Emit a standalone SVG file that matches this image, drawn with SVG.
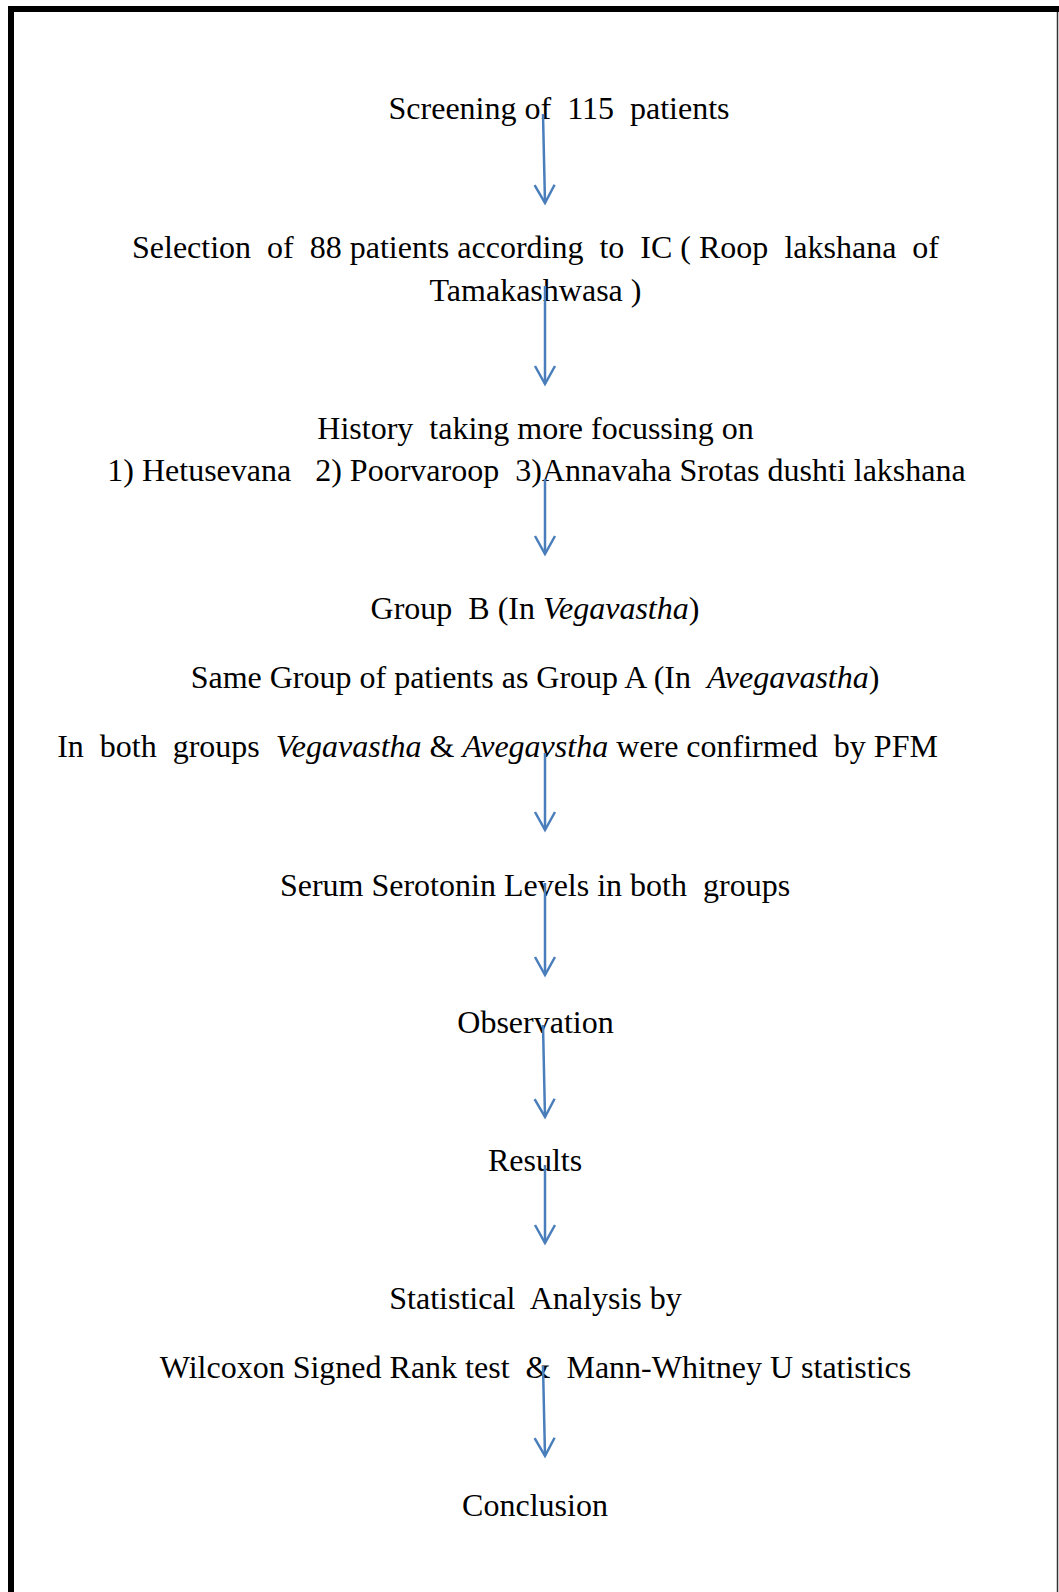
<svg xmlns="http://www.w3.org/2000/svg" width="1059" height="1592" viewBox="0 0 1059 1592">
  <style>
    .t { font-family: "Liberation Serif", "Times New Roman", serif; font-size: 32px; fill: #000; white-space: pre; }
    .c { text-anchor: middle; }
    .i { font-style: italic; }
    .flow { stroke: #4A7EBB; stroke-width: 2.5; fill: none; }
  </style>
  <defs>
    <marker id="head" markerUnits="userSpaceOnUse" markerWidth="24" markerHeight="24" refX="18" refY="10" orient="auto" overflow="visible">
      <path d="M0,0 L18,10 L0,20" fill="none" stroke="#4A7EBB" stroke-width="2.5"/>
    </marker>
  </defs>

  <rect width="1059" height="1592" fill="#fff"/>

  <!-- page frame -->
  <g id="frame">
    <rect x="8" y="6" width="1051" height="6" fill="#000"/>
    <rect x="8" y="6" width="6" height="1586" fill="#000"/>
    <line x1="1057.5" y1="12" x2="1057.5" y2="1592" stroke="#333" stroke-width="1.5"/>
  </g>

  <!-- flow steps -->
  <g id="screening">
    <text class="t c" x="559" y="119" xml:space="preserve">Screening of  115  patients</text>
  </g>
  <g id="selection">
    <text class="t" x="132" y="258" textLength="807" lengthAdjust="spacing" xml:space="preserve">Selection  of  88 patients according  to  IC ( Roop  lakshana  of</text>
    <text class="t c" x="535.5" y="300.5" xml:space="preserve">Tamakashwasa )</text>
  </g>
  <g id="history">
    <text class="t c" x="535.5" y="438.5" xml:space="preserve">History  taking more focussing on</text>
    <text class="t c" x="536.5" y="481" xml:space="preserve">1) Hetusevana   2) Poorvaroop  3)Annavaha Srotas dushti lakshana</text>
  </g>
  <g id="groups">
    <text class="t c" x="535" y="619" xml:space="preserve">Group  B (In <tspan class="i">Vegavastha</tspan>)</text>
    <text class="t c" x="535" y="688" xml:space="preserve">Same Group of patients as Group A (In  <tspan class="i">Avegavastha</tspan>)</text>
    <text class="t c" x="497.5" y="757" xml:space="preserve">In  both  groups  <tspan class="i">Vegavastha</tspan> &amp; <tspan class="i">Avegavstha</tspan> were confirmed  by PFM</text>
  </g>
  <g id="serotonin">
    <text class="t c" x="535" y="895.5" xml:space="preserve">Serum Serotonin Levels in both  groups</text>
  </g>
  <g id="observation">
    <text class="t c" x="535.5" y="1032.5" xml:space="preserve">Observation</text>
  </g>
  <g id="results">
    <text class="t c" x="535" y="1170.5" xml:space="preserve">Results</text>
  </g>
  <g id="statistics">
    <text class="t c" x="535.5" y="1308.5" xml:space="preserve">Statistical  Analysis by</text>
    <text class="t c" x="535.5" y="1377.5" xml:space="preserve">Wilcoxon Signed Rank test  &amp;  Mann-Whitney U statistics</text>
  </g>
  <g id="conclusion">
    <text class="t c" x="535" y="1516" xml:space="preserve">Conclusion</text>
  </g>

  <!-- connectors -->
  <g id="connectors" class="flow" marker-end="url(#head)">
    <line x1="543" y1="114" x2="545" y2="203"/>
    <line x1="545" y1="286" x2="545" y2="384"/>
    <line x1="545" y1="479" x2="545" y2="554"/>
    <line x1="545" y1="753" x2="545" y2="830"/>
    <line x1="545" y1="883" x2="545" y2="975"/>
    <line x1="543" y1="1025" x2="545" y2="1117"/>
    <line x1="545" y1="1165" x2="545" y2="1243"/>
    <line x1="543" y1="1366" x2="545" y2="1456"/>
  </g>
</svg>
